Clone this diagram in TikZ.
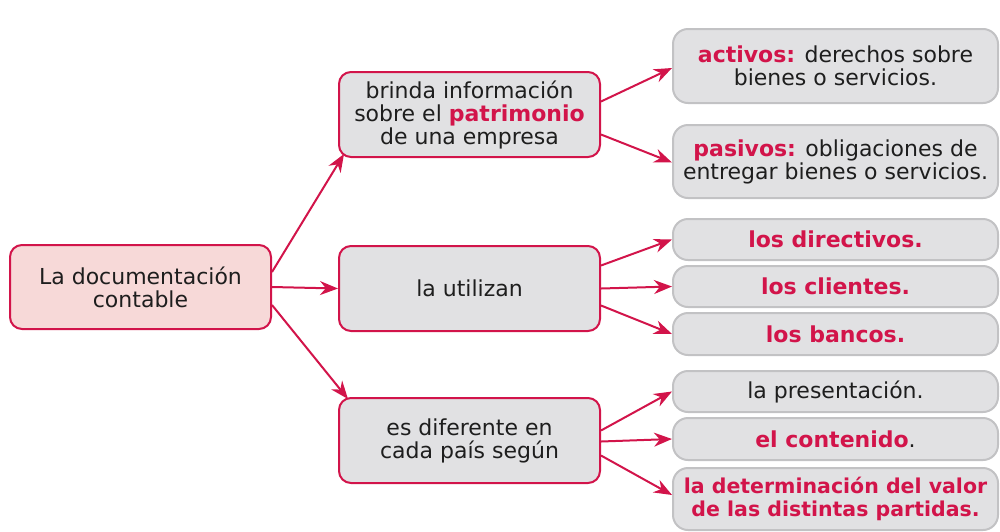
\documentclass[tikz,border=0pt]{standalone}
\usepackage{fontspec}
\setmainfont{DejaVu Sans}
\usetikzlibrary{calc,arrows.meta}
\definecolor{crim}{HTML}{D2144A}
\definecolor{pinkf}{HTML}{F7D9D8}
\definecolor{grayf}{HTML}{E1E1E3}
\definecolor{grayb}{HTML}{C2C2C4}
\definecolor{txt}{HTML}{1E1E1E}
\newcommand{\hl}[1]{\textbf{\color{crim}#1}}
\tikzset{
  mainbox/.style={draw=crim, line width=2pt, rounded corners=12pt, fill=pinkf, text=txt,
    minimum width=261pt, minimum height=84pt, align=center, inner sep=2pt,
    font=\fontsize{22}{23}\selectfont},
  midbox/.style={mainbox, fill=grayf, minimum height=85pt},
  rightbox/.style={draw=grayb, line width=2pt, rounded corners=15pt, fill=grayf, text=txt,
    minimum width=325pt, align=center, inner sep=2pt,
    font=\fontsize{22}{23}\selectfont},
  arr/.style={draw=crim, line width=2pt, -{Stealth[length=18pt,width=14pt]}}
}
\begin{document}
\begin{tikzpicture}[x=1pt,y=-1pt]
\useasboundingbox (0,0) rectangle (1000,531);
\node[mainbox] (lb) at (140.5,287) {La documentación\\contable};
\node[midbox] (m1) at (469.5,114.5) {brinda información\\sobre el \hl{patrimonio}\\de una empresa};
\node[midbox] (m2) at (469.5,288.5) {la utilizan};
\node[midbox] (m3) at (469.5,440.5) {es diferente en\\cada país según};

\node[rightbox, minimum height=74pt] (a1) at (835.5,66) {\hl{activos:} derechos sobre\\bienes o servicios.};
\node[rightbox, minimum height=73pt] (a2) at (835.5,161.5) {\hl{pasivos:} obligaciones de\\entregar bienes o servicios.};
\node[rightbox, minimum height=41pt] (r1) at (835.5,239.5) {\hl{los directivos.}};
\node[rightbox, minimum height=41pt] (r2) at (835.5,286.5) {\hl{los clientes.}};
\node[rightbox, minimum height=42pt] (r3) at (835.5,334) {\hl{los bancos.}};
\node[rightbox, minimum height=41pt] (r4) at (835.5,391.5) {la presentación.};
\node[rightbox, minimum height=42pt] (r5) at (835.5,439) {\hl{el contenido}.};
\node[rightbox, minimum height=62pt, font=\fontsize{20.5}{23}\selectfont] (r6) at (835.5,499) {\hl{la determinación del valor}\\\hl{de las distintas partidas.}};

\draw[arr] ($(lb.east)+(0,-15)$) -- ($(m1.south west)+(6,-4)$);
\draw[arr] (lb.east) -- (m2.west);
\draw[arr] ($(lb.east)+(0,18)$) -- ($(m3.north west)+(10,2)$);

\draw[arr] ($(m1.east)+(0,-13)$) -- ($(a1.west)+(0,2)$);
\draw[arr] ($(m1.east)+(0,20)$) -- ($(a2.west)+(0,1)$);

\draw[arr] ($(m2.east)+(0,-23)$) -- (r1.west);
\draw[arr] (m2.east) -- (r2.west);
\draw[arr] ($(m2.east)+(0,17)$) -- (r3.west);

\draw[arr] ($(m3.east)+(0,-10)$) -- (r4.west);
\draw[arr] ($(m3.east)+(0,1)$) -- (r5.west);
\draw[arr] ($(m3.east)+(0,15)$) -- ($(r6.west)+(0,-4)$);
\end{tikzpicture}
\end{document}
